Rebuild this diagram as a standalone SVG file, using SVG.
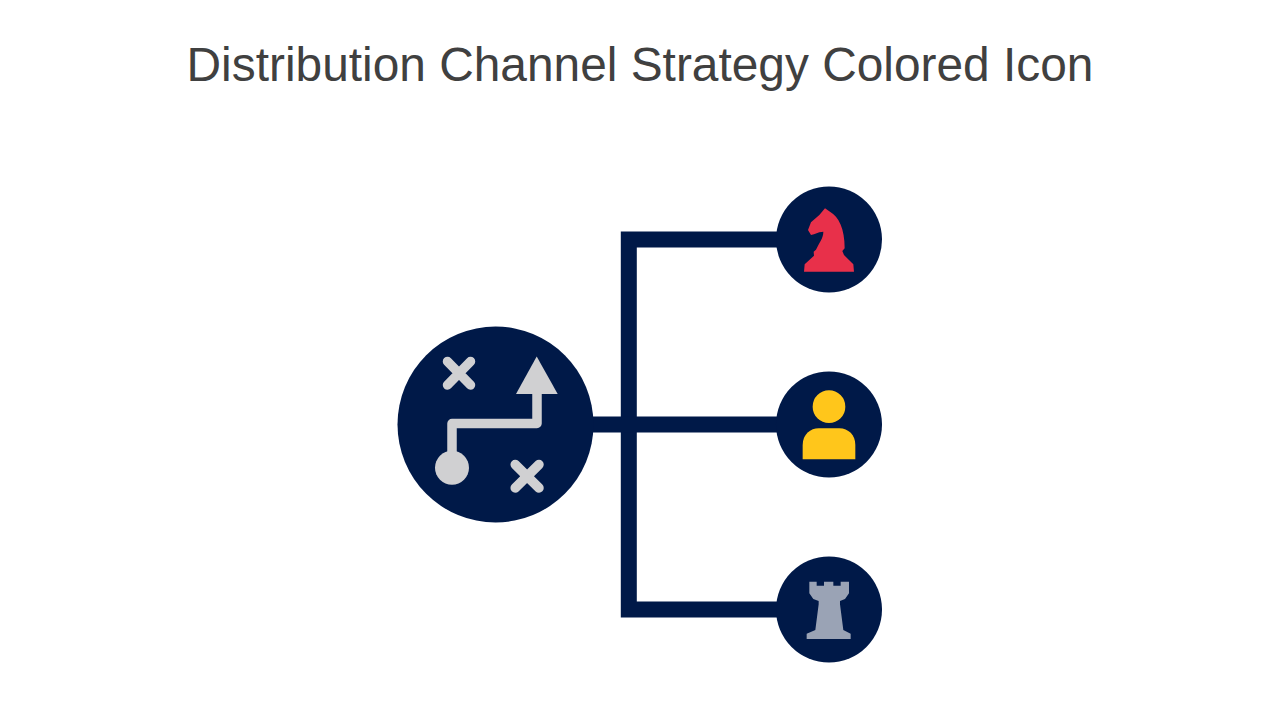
<svg xmlns="http://www.w3.org/2000/svg" width="1280" height="720" viewBox="0 0 1280 720">
<style>
.navy{fill:#001948}
.conn{fill:none;stroke:#001948;stroke-width:16}
.mark{fill:none;stroke:#d0d0d2;stroke-width:9.500;stroke-linecap:round;stroke-linejoin:round}
.title{font-family:"Liberation Sans",Arial,sans-serif;font-size:47.85px;fill:#404040}
</style>
<rect width="1280" height="720" fill="#ffffff"/>
<text id="title" class="title" x="640" y="81" text-anchor="middle">Distribution Channel Strategy Colored Icon</text>
<g id="connectors">
<path class="conn" d="M780 239.500H628.800V609.500H780"/>
<path class="conn" d="M590 424.500H780"/>
</g>
<g id="node-strategy">
<circle class="navy" cx="495.500" cy="424.500" r="98"/>
<g class="mark">
<path d="M447.500 361.500L470.500 385M470.500 361.500L447.500 385"/>
<path d="M515.200 464.500L539 488M539 464.500L515.200 488"/>
<path d="M452 455V423.500H537V390"/>
</g>
<circle cx="452" cy="467.700" r="17" fill="#d0d0d2"/>
<path d="M536.700 356.500L516 394H557.700Z" fill="#d0d0d2"/>
</g>
<g id="node-knight">
<circle class="navy" cx="829" cy="239.500" r="53"/>
<path transform="translate(800 205) scale(.3333)" fill="#e8304a" d="M12 200L14 178L28 165L42 152L41 140L48 134C58 112 70 100 70 80L58 82L42 88L33 90L24 75L33 52L58 30L75 10L90 20C116 35 134 70 134 130L127 138L132 150L147 165L160 178L162 200Z"/>
</g>
<g id="node-person">
<circle class="navy" cx="829" cy="424.500" r="53"/>
<g transform="translate(770 365) scale(.3333)" fill="#ffc61b">
<circle cx="177" cy="125" r="49"/>
<path d="M98 283V240C98 208 122 190 146 190H208C235 190 256 210 256 240V283Z"/>
</g>
</g>
<g id="node-rook">
<circle class="navy" cx="829" cy="609.500" r="53"/>
<path transform="translate(800 575) scale(.3333)" fill="#9aa3b5" d="M28 20H50V32H72V20H100V32H122V20H147V55L135 72L120 78V88L130 165L152 176V192H20V176L46 165L56 88V78L40 72L28 55Z"/>
</g>
</svg>
